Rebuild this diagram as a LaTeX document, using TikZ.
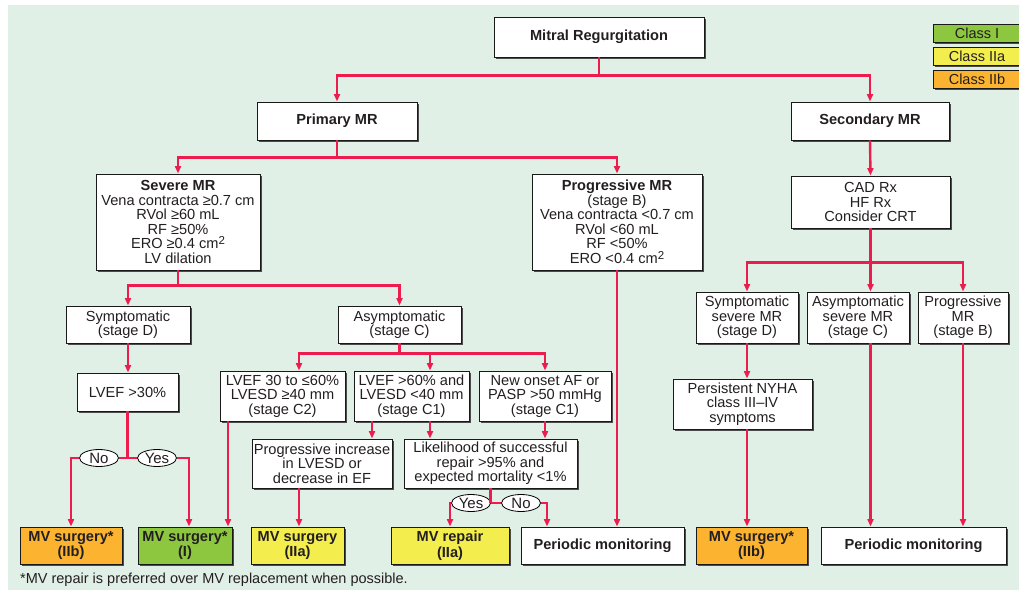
\documentclass[tikz,border=0pt]{standalone}
\usepackage{fontspec}
\setmainfont{Liberation Sans}
\usetikzlibrary{arrows.meta,shapes.geometric,shadows,calc}
\definecolor{bgc}{HTML}{E1F0E6}
\definecolor{redc}{HTML}{EC1C4F}
\definecolor{orc}{HTML}{FBB330}
\definecolor{grc}{HTML}{8DC63F}
\definecolor{yec}{HTML}{F3EE4E}
\definecolor{txc}{HTML}{231F20}
\newcommand{\sqtwo}{\raisebox{4pt}{\fontsize{11.5}{11.5}\selectfont 2}}
\tikzset{
  box/.style={draw=black!90, line width=0.9pt, fill=white, text=txc, align=center,
    inner sep=1pt, font=\fontsize{14.6}{14.5}\selectfont,
    drop shadow={shadow xshift=2pt, shadow yshift=-2pt, fill=black!70, opacity=1}},
  bbox/.style={box, font=\fontsize{14.6}{15.5}\selectfont\bfseries},
  legbox/.style={box, font=\fontsize{14.5}{14}\selectfont, minimum width=88, minimum height=18},
  yn/.style={ellipse, draw=black, line width=0.8pt, fill=white, text=txc, inner sep=0pt,
    minimum width=39, minimum height=17, font=\fontsize{15}{14}\selectfont},
  link/.style={draw=redc, line width=2.4pt},
  arr/.style={link, -{Triangle[length=7.5pt,width=6pt]}}
}
\begin{document}
\begin{tikzpicture}[x=1pt,y=-1pt]
\useasboundingbox (0,0) rectangle (1019,593);
\fill[white] (0,0) rectangle (1019,593);
\fill[bgc] (8,5) rectangle (1019,590);

% legend
\node[legbox, fill=grc] (lg1) at (977,33) {Class I};
\node[legbox, fill=yec] (lg2) at (977,56) {Class IIa};
\node[legbox, fill=orc] (lg3) at (977,79) {Class IIb};

% top levels
\node[bbox, minimum width=210, minimum height=40] (mr) at (599,37) {Mitral Regurgitation};
\node[bbox, minimum width=160, minimum height=38] (pmr) at (337,121) {Primary MR};
\node[bbox, minimum width=158, minimum height=38] (smr) at (870,121) {Secondary MR};

\node[box, minimum width=164, minimum height=96] (sev) at (178,222)
  {\textbf{Severe MR}\\Vena contracta ≥0.7 cm\\RVol ≥60 mL\\RF ≥50\%\\ERO ≥0.4 cm\sqtwo\\LV dilation};
\node[box, minimum width=170, minimum height=96] (prog) at (617,222)
  {\textbf{Progressive MR}\\(stage B)\\Vena contracta <0.7 cm\\RVol <60 mL\\RF <50\%\\ERO <0.4 cm\sqtwo};
\node[box, minimum width=159, minimum height=52] (cad) at (870.5,202)
  {CAD Rx\\HF Rx\\Consider CRT};

\node[box, minimum width=124, minimum height=37] (symd) at (128,324.5) {Symptomatic\\(stage D)};
\node[box, minimum width=123, minimum height=37] (asym) at (399.5,324.5) {Asymptomatic\\(stage C)};
\node[box, minimum width=102, minimum height=51] (ssev) at (747,317.5) {Symptomatic\\severe MR\\(stage D)};
\node[box, minimum width=102, minimum height=51] (asev) at (858,317.5) {Asymptomatic\\severe MR\\(stage C)};
\node[box, minimum width=90, minimum height=51] (pmrb) at (963,317.5) {Progressive\\MR\\(stage B)};

\node[box, minimum width=101, minimum height=38] (lv30) at (127.5,392) {LVEF >30\%};
\node[box, minimum width=125, minimum height=50] (c2) at (282.5,396) {LVEF 30 to ≤60\%\\LVESD ≥40 mm\\(stage C2)};
\node[box, minimum width=115, minimum height=50] (c1a) at (411.5,396) {LVEF >60\% and\\LVESD <40 mm\\(stage C1)};
\node[box, minimum width=132, minimum height=50] (c1b) at (545,396) {New onset AF or\\PASP >50 mmHg\\(stage C1)};
\node[box, minimum width=139, minimum height=50] (pers) at (742.5,404) {Persistent NYHA\\class III–IV\\symptoms};

\node[box, minimum width=140, minimum height=49] (pinc) at (322,463.5) {Progressive increase\\in LVESD or\\decrease in EF};
\node[box, minimum width=173, minimum height=49] (like) at (490.5,463.5) {Likelihood of successful\\repair >95\% and\\expected mortality <1\%};

% bottom row
\node[bbox, fill=orc, minimum width=102, minimum height=37] (o1) at (71,545.5) {MV surgery*\\(IIb)};
\node[bbox, fill=grc, minimum width=94, minimum height=37] (g1) at (185,545.5) {MV surgery*\\(I)};
\node[bbox, fill=yec, minimum width=93, minimum height=37] (y1) at (297.5,545.5) {MV surgery\\(IIa)};
\node[bbox, fill=yec, minimum width=118, minimum height=37] (y2) at (450,545.5) {MV repair\\(IIa)};
\node[bbox, minimum width=163, minimum height=37] (pm1) at (602.5,545.5) {Periodic monitoring};
\node[bbox, fill=orc, minimum width=111, minimum height=37] (o2) at (751.5,545.5) {MV surgery*\\(IIb)};
\node[bbox, minimum width=185, minimum height=37] (pm2) at (913.5,545.5) {Periodic monitoring};

% yes/no
\node[yn] (no1) at (99,458) {No};
\node[yn] (yes1) at (157,458) {Yes};
\node[yn] (yes2) at (471,503) {Yes};
\node[yn] (no2) at (521,503) {No};

% footnote
\node[anchor=west, text=txc, font=\fontsize{14.5}{14}\selectfont, inner sep=0pt] (fn) at (20,580)
  {*MV repair is preferred over MV replacement when possible.};

% connectors
\draw[link] (mr.south) -- ++(0,18) coordinate (j1);
\draw[arr] (j1) -| (pmr.north);
\draw[arr] (j1) -| (smr.north);

\draw[link] (pmr.south) -- ++(0,17) coordinate (j2);
\draw[arr] (j2) -| (sev.north);
\draw[arr] (j2) -| (prog.north);

\draw[arr] (smr.south) -- (cad.north);

\draw[link] (sev.south) -- ++(0,15) coordinate (j3);
\draw[arr] (j3) -| (symd.north);
\draw[arr] (j3) -| (asym.north);

\draw[arr] (symd.south) -- (symd.south |- lv30.north);

\draw[link] (asym.south) -- ++(0,10) coordinate (j4);
\draw[arr] (j4) -| ([xshift=16.5pt]c2.north);
\draw[arr] (j4) -| ([xshift=18.5pt]c1a.north);
\draw[arr] (j4) -| (c1b.north);

\draw[link] (lv30.south) -- (lv30.south |- no1.center);
\draw[link] (no1.east) -- (yes1.west);
\draw[arr] (no1.west) -| (o1.north);
\draw[arr] (yes1.east) -| ([xshift=4pt]g1.north);

\draw[arr] ([xshift=-54.5pt]c2.south) -- ([xshift=-54.5pt]c2.south |- g1.north);
\draw[arr] ([xshift=-39.5pt]c1a.south) -- ([xshift=-39.5pt]c1a.south |- pinc.north);
\draw[arr] ([xshift=18.5pt]c1a.south) -- ([xshift=18.5pt]c1a.south |- like.north);
\draw[arr] (c1b.south) -- (c1b.south |- like.north);
\draw[arr] ([xshift=-23pt]pinc.south) -- ([xshift=-23pt]pinc.south |- y1.north);

\draw[link] (like.south) -- (like.south |- yes2.center);
\draw[link] (yes2.east) -- (no2.west);
\draw[arr] (yes2.west) -| (y2.north);
\draw[arr] (no2.east) -| ([xshift=-55.5pt]pm1.north);

\draw[arr] (prog.south) -- (prog.south |- pm1.north);

\draw[link] (cad.south) -- ++(0,34) coordinate (j5);
\draw[arr] (j5) -| (ssev.north);
\draw[arr] (j5) -- (j5 |- asev.north);
\draw[arr] (j5) -| (pmrb.north);

\draw[arr] (ssev.south) -- (ssev.south |- pers.north);
\draw[arr] (pers.south -| ssev.south) -- (ssev.south |- o2.north);
\draw[arr] (asev.south -| cad.south) -- (cad.south |- pm2.north);
\draw[arr] (pmrb.south) -- (pmrb.south |- pm2.north);
\end{tikzpicture}
\end{document}
